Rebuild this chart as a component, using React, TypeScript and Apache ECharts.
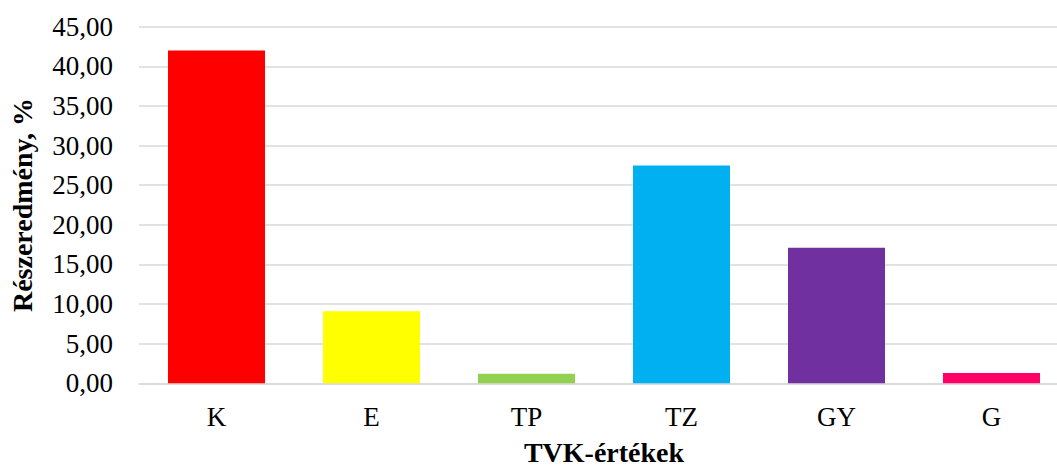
import React, { useEffect, useRef } from "react";
import * as echarts from "echarts";

const categories = ["K", "E", "TP", "TZ", "GY", "G"];
const values = [42.0, 9.1, 1.2, 27.5, 17.1, 1.3];
const barColors = ["#ff0000", "#ffff00", "#92d050", "#00b0f0", "#7030a0", "#ff0066"];
const yTitle = "Részeredmény, %";
const xTitle = "TVK-értékek";

const FONT = "'Liberation Serif', 'Times New Roman', serif";

export default function App() {
  const ref = useRef<HTMLDivElement>(null);

  useEffect(() => {
    if (!ref.current) return;
    const chart = echarts.init(ref.current, undefined, { renderer: "svg" });
    chart.setOption({
      animation: false,
      backgroundColor: "#ffffff",
      grid: {
        left: 139,
        right: 0,
        top: 26.7,
        bottom: 83.7,
        containLabel: false,
        outerBoundsMode: "none",
      },
      xAxis: {
        type: "category",
        data: categories,
        axisTick: { show: false },
        axisLine: { lineStyle: { color: "#d9d9d9", width: 1.5 } },
        axisLabel: { color: "#000", fontFamily: FONT, fontSize: 27, margin: 20 },
        name: xTitle,
        nameLocation: "middle",
        nameGap: 55,
        nameTextStyle: { color: "#000", fontFamily: FONT, fontSize: 28, fontWeight: "bold", lineHeight: 28 },
      },
      yAxis: {
        type: "value",
        min: 0,
        max: 45,
        interval: 5,
        axisLine: { show: false },
        axisTick: { show: false },
        splitLine: { lineStyle: { color: "#d9d9d9", width: 1.5 } },
        axisLabel: {
          color: "#000",
          fontFamily: FONT,
          fontSize: 27,
          margin: 26,
          formatter: (v: number) => v.toFixed(2).replace(".", ","),
        },
        name: yTitle,
        nameLocation: "middle",
        nameGap: 103,
        nameRotate: 90,
        nameTextStyle: { color: "#000", fontFamily: FONT, fontSize: 28, fontWeight: "bold" },
      },
      series: [
        {
          type: "bar",
          barWidth: 97,
          data: values.map((v, i) => ({ value: v, itemStyle: { color: barColors[i] } })),
        },
      ],
    });
    return () => chart.dispose();
  }, []);

  return (
    <div style={{ position: "absolute", left: 0, top: 0, width: 1057, height: 467, overflow: "hidden", background: "#fff" }}>
      <div ref={ref} style={{ width: 1069, height: 467 }} />
    </div>
  );
}
